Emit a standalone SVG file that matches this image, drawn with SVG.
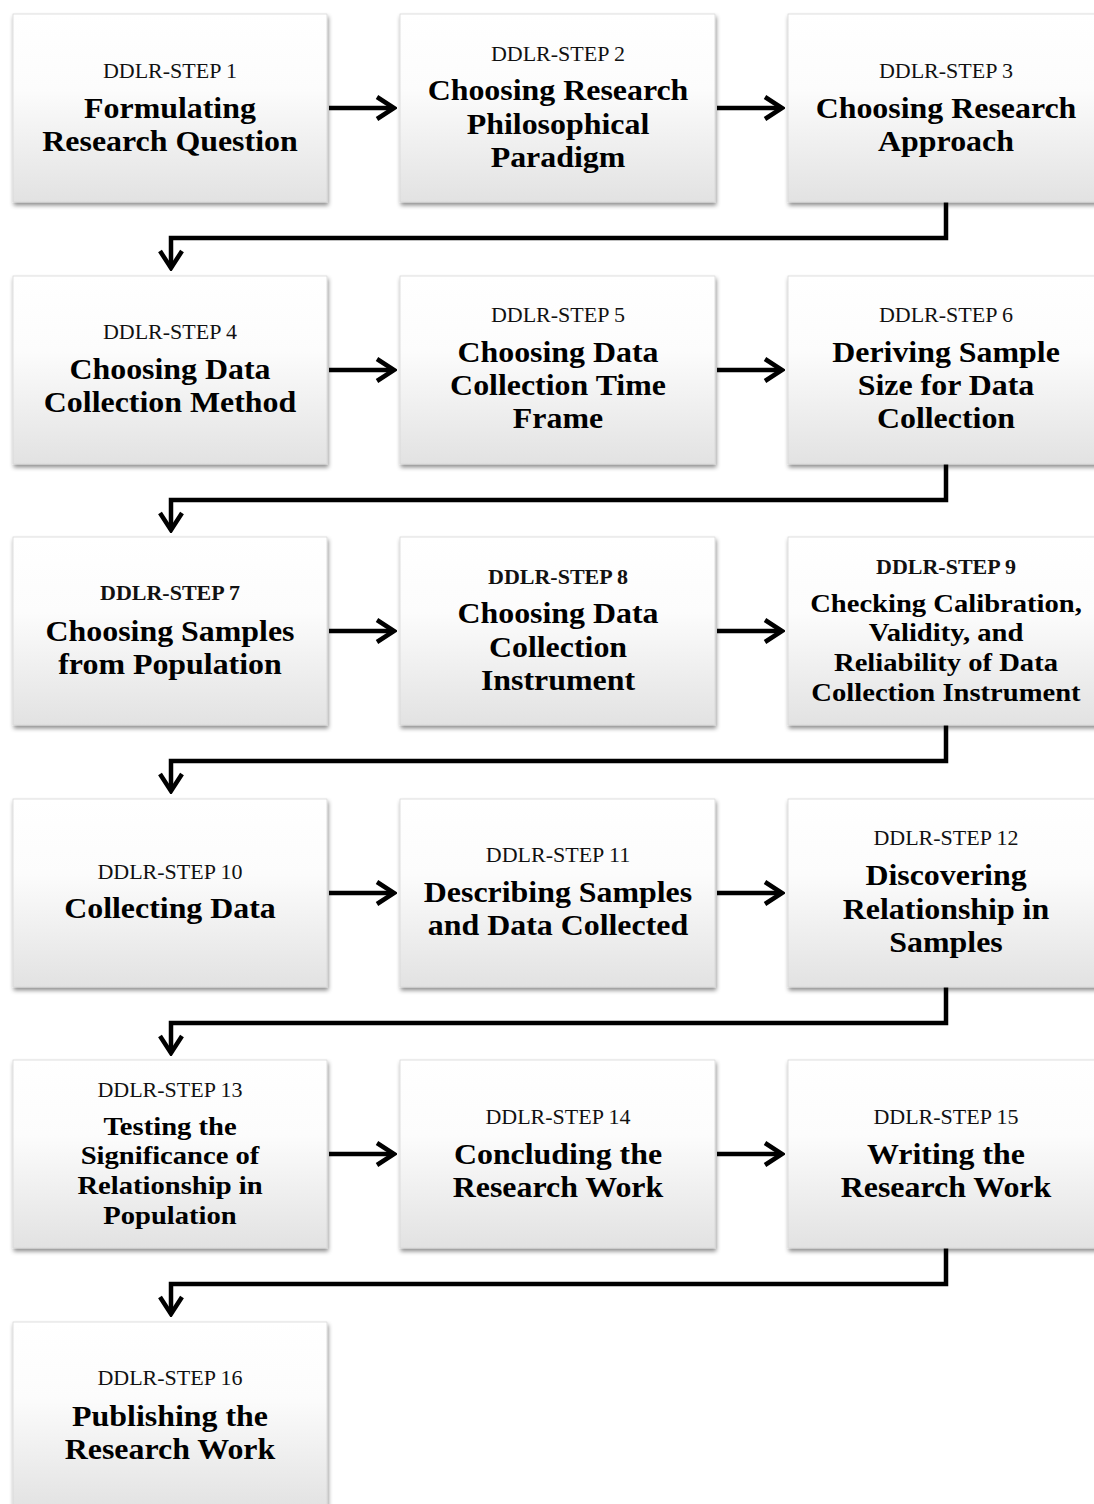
<svg xmlns="http://www.w3.org/2000/svg" width="1094" height="1504" viewBox="0 0 1094 1504">
<defs>
<linearGradient id="g" x1="0" y1="0" x2="0" y2="1">
<stop offset="0" stop-color="#ffffff"/>
<stop offset="0.4" stop-color="#fcfcfc"/>
<stop offset="1" stop-color="#e2e2e2"/>
</linearGradient>
<filter id="sh" x="-5%" y="-5%" width="112%" height="115%">
<feDropShadow dx="1" dy="3" stdDeviation="2" flood-color="#000" flood-opacity="0.45"/>
</filter>
<marker id="ah" markerUnits="userSpaceOnUse" viewBox="0 0 24 26" refX="21" refY="13" markerWidth="24" markerHeight="26" orient="auto">
<path d="M4,2 L21,13 L4,24" fill="none" stroke="#000" stroke-width="4.5" stroke-linejoin="miter"/>
</marker>
</defs>
<style>
.box{fill:url(#g);stroke:#d8d8d8;stroke-width:0.8;filter:url(#sh)}
.lbl{font-family:"Liberation Serif","Times New Roman",serif;font-size:22px;fill:#111;text-anchor:middle}
.lblb{font-family:"Liberation Serif","Times New Roman",serif;font-size:22px;font-weight:bold;fill:#111;text-anchor:middle}
.ttl{font-family:"Liberation Serif","Times New Roman",serif;font-size:29px;font-weight:bold;fill:#000;text-anchor:middle}
.ttl4{font-family:"Liberation Serif","Times New Roman",serif;font-size:26px;font-weight:bold;fill:#000;text-anchor:middle}
.con{fill:none;stroke:#000;stroke-width:4.5;stroke-linejoin:miter}
</style>
<rect width="1094" height="1504" fill="#fff"/>

<g id="connectors">
<path class="con" d="M329,108 H394" marker-end="url(#ah)"/>
<path class="con" d="M717,108 H782" marker-end="url(#ah)"/>
<path class="con" d="M946,202 V238 H171 V268" marker-end="url(#ah)"/>
<path class="con" d="M329,370 H394" marker-end="url(#ah)"/>
<path class="con" d="M717,370 H782" marker-end="url(#ah)"/>
<path class="con" d="M946,464 V500 H171 V530" marker-end="url(#ah)"/>
<path class="con" d="M329,631 H394" marker-end="url(#ah)"/>
<path class="con" d="M717,631 H782" marker-end="url(#ah)"/>
<path class="con" d="M946,725 V761 H171 V791" marker-end="url(#ah)"/>
<path class="con" d="M329,893 H394" marker-end="url(#ah)"/>
<path class="con" d="M717,893 H782" marker-end="url(#ah)"/>
<path class="con" d="M946,987 V1023 H171 V1053" marker-end="url(#ah)"/>
<path class="con" d="M329,1154 H394" marker-end="url(#ah)"/>
<path class="con" d="M717,1154 H782" marker-end="url(#ah)"/>
<path class="con" d="M946,1248 V1284 H171 V1314" marker-end="url(#ah)"/>
</g>

<g id="step1">
<rect class="box" x="13" y="14" width="314" height="188"/>
<text class="lbl" x="170" y="78">DDLR-STEP 1</text>
<g transform="translate(170 0) scale(1.1 1)">
<text class="ttl" x="0" y="118">Formulating</text>
<text class="ttl" x="0" y="151">Research Question</text>
</g>
</g>
<g id="step2">
<rect class="box" x="400" y="14" width="315" height="188"/>
<text class="lbl" x="558" y="61">DDLR-STEP 2</text>
<g transform="translate(558 0) scale(1.1 1)">
<text class="ttl" x="0" y="100.5">Choosing Research</text>
<text class="ttl" x="0" y="134">Philosophical</text>
<text class="ttl" x="0" y="167">Paradigm</text>
</g>
</g>
<g id="step3">
<rect class="box" x="788" y="14" width="315" height="188"/>
<text class="lbl" x="946" y="78">DDLR-STEP 3</text>
<g transform="translate(946 0) scale(1.1 1)">
<text class="ttl" x="0" y="118">Choosing Research</text>
<text class="ttl" x="0" y="151">Approach</text>
</g>
</g>

<g id="step4">
<rect class="box" x="13" y="276" width="314" height="188"/>
<text class="lbl" x="170" y="339">DDLR-STEP 4</text>
<g transform="translate(170 0) scale(1.1 1)">
<text class="ttl" x="0" y="379">Choosing Data</text>
<text class="ttl" x="0" y="412">Collection Method</text>
</g>
</g>
<g id="step5">
<rect class="box" x="400" y="276" width="315" height="188"/>
<text class="lbl" x="558" y="322">DDLR-STEP 5</text>
<g transform="translate(558 0) scale(1.1 1)">
<text class="ttl" x="0" y="362">Choosing Data</text>
<text class="ttl" x="0" y="395">Collection Time</text>
<text class="ttl" x="0" y="428.5">Frame</text>
</g>
</g>
<g id="step6">
<rect class="box" x="788" y="276" width="315" height="188"/>
<text class="lbl" x="946" y="322">DDLR-STEP 6</text>
<g transform="translate(946 0) scale(1.1 1)">
<text class="ttl" x="0" y="362">Deriving Sample</text>
<text class="ttl" x="0" y="395">Size for Data</text>
<text class="ttl" x="0" y="428.5">Collection</text>
</g>
</g>

<g id="step7">
<rect class="box" x="13" y="537" width="314" height="188"/>
<text class="lblb" x="170" y="600">DDLR-STEP 7</text>
<g transform="translate(170 0) scale(1.1 1)">
<text class="ttl" x="0" y="641">Choosing Samples</text>
<text class="ttl" x="0" y="674">from Population</text>
</g>
</g>
<g id="step8">
<rect class="box" x="400" y="537" width="315" height="188"/>
<text class="lblb" x="558" y="584">DDLR-STEP 8</text>
<g transform="translate(558 0) scale(1.1 1)">
<text class="ttl" x="0" y="623.5">Choosing Data</text>
<text class="ttl" x="0" y="657">Collection</text>
<text class="ttl" x="0" y="690">Instrument</text>
</g>
</g>
<g id="step9">
<rect class="box" x="788" y="537" width="315" height="188"/>
<text class="lblb" x="946" y="574">DDLR-STEP 9</text>
<g transform="translate(946 0) scale(1.1 1)">
<text class="ttl4" x="0" y="612">Checking Calibration,</text>
<text class="ttl4" x="0" y="641.5">Validity, and</text>
<text class="ttl4" x="0" y="671">Reliability of Data</text>
<text class="ttl4" x="0" y="701">Collection Instrument</text>
</g>
</g>

<g id="step10">
<rect class="box" x="13" y="799" width="314" height="188"/>
<text class="lbl" x="170" y="879">DDLR-STEP 10</text>
<g transform="translate(170 0) scale(1.1 1)">
<text class="ttl" x="0" y="918">Collecting Data</text>
</g>
</g>
<g id="step11">
<rect class="box" x="400" y="799" width="315" height="188"/>
<text class="lbl" x="558" y="862">DDLR-STEP 11</text>
<g transform="translate(558 0) scale(1.1 1)">
<text class="ttl" x="0" y="902">Describing Samples</text>
<text class="ttl" x="0" y="935">and Data Collected</text>
</g>
</g>
<g id="step12">
<rect class="box" x="788" y="799" width="315" height="188"/>
<text class="lbl" x="946" y="845">DDLR-STEP 12</text>
<g transform="translate(946 0) scale(1.1 1)">
<text class="ttl" x="0" y="885.5">Discovering</text>
<text class="ttl" x="0" y="919">Relationship in</text>
<text class="ttl" x="0" y="952">Samples</text>
</g>
</g>

<g id="step13">
<rect class="box" x="13" y="1060" width="314" height="188"/>
<text class="lbl" x="170" y="1097">DDLR-STEP 13</text>
<g transform="translate(170 0) scale(1.1 1)">
<text class="ttl4" x="0" y="1135">Testing the</text>
<text class="ttl4" x="0" y="1164.5">Significance of</text>
<text class="ttl4" x="0" y="1194">Relationship in</text>
<text class="ttl4" x="0" y="1224">Population</text>
</g>
</g>
<g id="step14">
<rect class="box" x="400" y="1060" width="315" height="188"/>
<text class="lbl" x="558" y="1124">DDLR-STEP 14</text>
<g transform="translate(558 0) scale(1.1 1)">
<text class="ttl" x="0" y="1164">Concluding the</text>
<text class="ttl" x="0" y="1197">Research Work</text>
</g>
</g>
<g id="step15">
<rect class="box" x="788" y="1060" width="315" height="188"/>
<text class="lbl" x="946" y="1124">DDLR-STEP 15</text>
<g transform="translate(946 0) scale(1.1 1)">
<text class="ttl" x="0" y="1164">Writing the</text>
<text class="ttl" x="0" y="1197">Research Work</text>
</g>
</g>

<g id="step16">
<rect class="box" x="13" y="1322" width="314" height="188"/>
<text class="lbl" x="170" y="1385">DDLR-STEP 16</text>
<g transform="translate(170 0) scale(1.1 1)">
<text class="ttl" x="0" y="1426">Publishing the</text>
<text class="ttl" x="0" y="1459">Research Work</text>
</g>
</g>
</svg>
